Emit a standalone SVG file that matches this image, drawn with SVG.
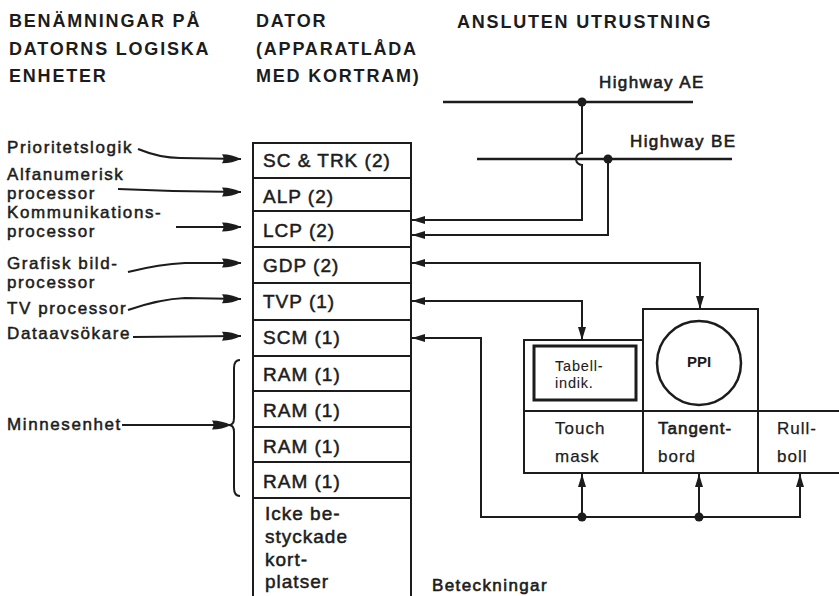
<svg xmlns="http://www.w3.org/2000/svg" width="839" height="596" viewBox="0 0 839 596">
<style>
text{font-family:"Liberation Sans",Arial,sans-serif;fill:#1c1c1c;stroke:#1c1c1c;stroke-width:0.5}
.h{font-size:18px;font-weight:bold;letter-spacing:1.8px;stroke-width:0}
.l{font-size:17px;letter-spacing:1.6px}
.hw{font-size:17px;letter-spacing:1.4px;stroke-width:0.6}
.s{font-size:19px;letter-spacing:1px}
.c{font-size:17px;letter-spacing:1px;stroke-width:0.25}
.t{font-size:14.5px;letter-spacing:0.8px;stroke-width:0.1}
.box{fill:none;stroke:#1c1c1c;stroke-width:2}
.ln{fill:none;stroke:#1c1c1c;stroke-width:2}
.la{fill:none;stroke:#1c1c1c;stroke-width:2.2}
.bus{fill:none;stroke:#1c1c1c;stroke-width:2.5}
.dot{fill:#1c1c1c}
</style>
<defs>
<marker id="big" markerUnits="userSpaceOnUse" markerWidth="20" markerHeight="10" refX="19" refY="5" orient="auto" overflow="visible">
<path d="M0,0.5 Q10,0.5 19,5 Q10,9.5 0,9.5 Q3,5 0,0.5 Z" fill="#1c1c1c"/>
</marker>
<marker id="sm" markerUnits="userSpaceOnUse" markerWidth="14" markerHeight="9" refX="13" refY="4.5" orient="auto-start-reverse" overflow="visible">
<path d="M0,0.5 L13,4.5 L0,8.5 Z" fill="#1c1c1c"/>
</marker>
</defs>

<g id="headers">
<text class="h" x="9" y="27">BENÄMNINGAR PÅ</text>
<text class="h" x="9" y="55">DATORNS LOGISKA</text>
<text class="h" x="9" y="82">ENHETER</text>
<text class="h" x="256" y="27">DATOR</text>
<text class="h" x="256" y="55">(APPARATLÅDA</text>
<text class="h" x="256" y="82">MED KORTRAM)</text>
<text class="h" x="457" y="28">ANSLUTEN UTRUSTNING</text>
</g>

<g id="labels">
<text class="l" x="7" y="153">Prioritetslogik</text>
<text class="l" x="7" y="180">Alfanumerisk</text>
<text class="l" x="7" y="199">processor</text>
<text class="l" x="7" y="218">Kommunikations-</text>
<text class="l" x="7" y="237">processor</text>
<text class="l" x="7" y="269">Grafisk bild-</text>
<text class="l" x="7" y="288">processor</text>
<text class="l" x="7" y="314">TV processor</text>
<text class="l" x="7" y="339">Dataavsökare</text>
<text class="l" x="7" y="430">Minnesenhet</text>
</g>

<g id="stack">
<path class="box" d="M253,596 V143 H411 V596"/>
<path class="box" d="M253,178 H411 M253,211 H411 M253,247 H411 M253,283 H411 M253,320 H411 M253,356 H411 M253,391 H411 M253,427 H411 M253,462 H411 M253,498 H411"/>
<g id="sc"><text class="s" x="263" y="167">SC &amp; TRK (2)</text></g>
<g id="alp"><text class="s" x="263" y="203">ALP (2)</text></g>
<g id="lcp"><text class="s" x="263" y="237">LCP (2)</text></g>
<g id="gdp"><text class="s" x="263" y="272">GDP (2)</text></g>
<g id="tvp"><text class="s" x="263" y="308">TVP (1)</text></g>
<g id="scm"><text class="s" x="263" y="344">SCM (1)</text></g>
<g id="ram1"><text class="s" x="263" y="381">RAM (1)</text></g>
<g id="ram2"><text class="s" x="263" y="417">RAM (1)</text></g>
<g id="ram3"><text class="s" x="263" y="453">RAM (1)</text></g>
<g id="ram4"><text class="s" x="263" y="488">RAM (1)</text></g>
<g id="empty">
<text class="s" x="265" y="520">Icke be-</text>
<text class="s" x="265" y="543">styckade</text>
<text class="s" x="265" y="566">kort-</text>
<text class="s" x="265" y="588">platser</text>
</g>
</g>

<g id="highways">
<path class="bus" d="M443,102 H693"/>
<path class="bus" d="M477,159 H732"/>
<text class="hw" x="599" y="88">Highway AE</text>
<text class="hw" x="630" y="147">Highway BE</text>
</g>

<g id="console">
<rect class="box" x="524" y="340" width="119" height="133"/>
<rect class="box" x="643" y="309" width="115" height="102"/>
<path class="box" d="M524,411 H839 M643,473 H839 M758,411 V473"/>
<rect x="534" y="346" width="102" height="54" fill="none" stroke="#1c1c1c" stroke-width="3"/>
<circle cx="699" cy="363" r="42" fill="none" stroke="#1c1c1c" stroke-width="2.5"/>
<text class="t" x="555" y="371">Tabell-</text>
<text class="t" x="555" y="388">indik.</text>
<text x="699" y="367" text-anchor="middle" style="font-size:15px;font-weight:bold;stroke-width:0">PPI</text>
<text class="c" x="555" y="434">Touch</text>
<text class="c" x="555" y="462">mask</text>
<text class="c" x="658" y="434" style="stroke-width:0.6">Tangent-</text>
<text class="c" x="658" y="462">bord</text>
<text class="c" x="777" y="434">Rull-</text>
<text class="c" x="777" y="462">boll</text>
</g>

<g id="bracket">
<path class="ln" d="M240,360 Q234,360 234,368 V418 Q234,425 229,425 Q234,425 234,432 V488 Q234,496 240,496" stroke-width="1.6"/>
</g>

<g id="connectors">
<path class="la" marker-end="url(#big)" d="M138,149 Q160,158 180,158 L241,159"/>
<path class="la" marker-end="url(#big)" d="M118,189 Q180,192 241,192"/>
<path class="la" marker-end="url(#big)" d="M176,227 L241,227"/>
<path class="la" marker-end="url(#big)" d="M128,272 Q160,264 185,263 L241,263"/>
<path class="la" marker-end="url(#big)" d="M128,310 Q160,299 185,298 L241,299"/>
<path class="la" marker-end="url(#big)" d="M133,337 L241,336"/>
<path class="la" marker-end="url(#big)" d="M122,425 L231,425"/>

<path class="ln" marker-end="url(#sm)" d="M582,102 V153 A6,6 0 0 0 582,165 V220 H412"/>
<path class="ln" marker-end="url(#sm)" d="M608,159 V235 H412"/>
<path class="ln" marker-start="url(#sm)" marker-end="url(#sm)" d="M412,263 H700 V309"/>
<path class="ln" marker-start="url(#sm)" marker-end="url(#sm)" d="M412,301 H582 V340"/>
<path class="ln" marker-start="url(#sm)" marker-end="url(#sm)" d="M412,338 H481 V517 H800 V474"/>
<path class="ln" marker-end="url(#sm)" d="M582,517 V474"/>
<path class="ln" marker-end="url(#sm)" d="M699,517 V474"/>
<circle class="dot" cx="582" cy="102" r="4.5"/>
<circle class="dot" cx="608" cy="159" r="4.5"/>
<circle class="dot" cx="582" cy="517" r="4.5"/>
<circle class="dot" cx="699" cy="517" r="4.5"/>
</g>

<text class="hw" x="432" y="591">Beteckningar</text>
</svg>
